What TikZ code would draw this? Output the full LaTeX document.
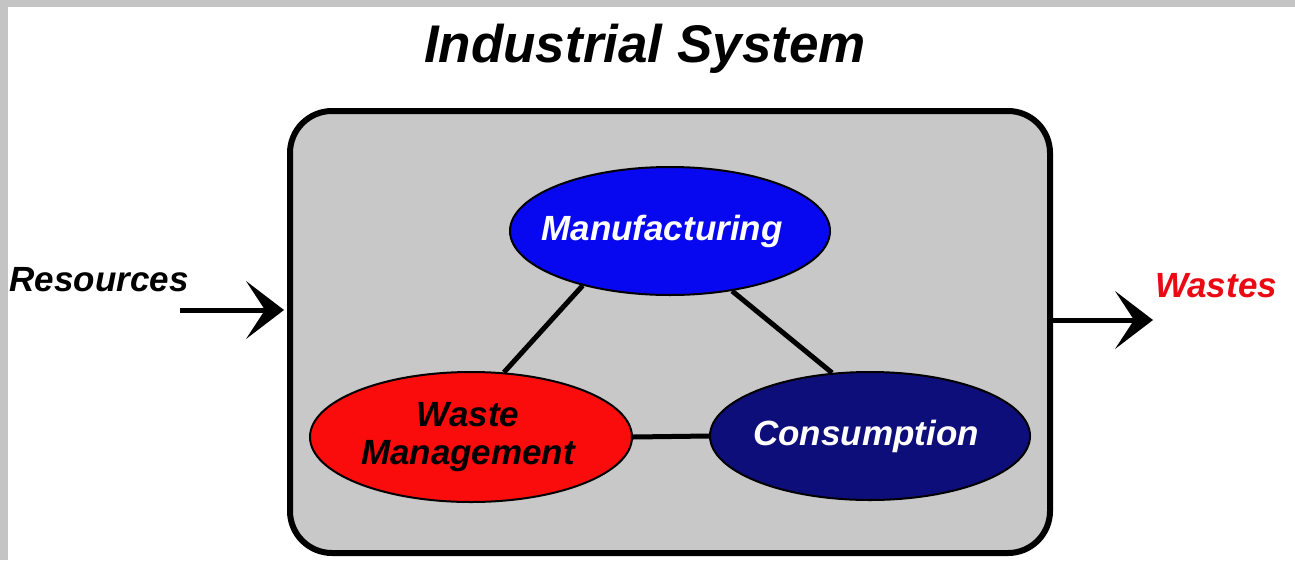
\documentclass[tikz,border=0pt]{standalone}
\usepackage{fontspec}
\setmainfont{Liberation Sans}
\usetikzlibrary{shapes.geometric,arrows.meta}
\definecolor{frame}{RGB}{196,196,196}
\definecolor{boxgray}{RGB}{200,200,200}
\definecolor{mblue}{RGB}{8,8,240}
\definecolor{cnavy}{RGB}{14,14,122}
\definecolor{wred}{RGB}{250,12,12}
\definecolor{labred}{RGB}{235,10,20}
\begin{document}
\begin{tikzpicture}[x=1pt,y=-1pt,
  lbl/.style={font=\fontsize{35}{38}\selectfont\bfseries\itshape, inner sep=0pt},
  stage/.style={ellipse, draw=black, line width=2pt, minimum width=320pt,
    minimum height=128pt, inner sep=0pt},
  link/.style={line width=5pt, black},
  flow/.style={line width=5pt, black,
    -{Stealth[length=38pt,width=58pt,inset=19pt,line width=0pt]}}]
  % page: grey frame with white panel
  \useasboundingbox (0,0) rectangle (1295,560);
  \fill[frame] (0,0) rectangle (1295,560);
  \fill[white] (8,7) rectangle (1295,560);

  % title
  \node[anchor=base, inner sep=0pt,
    font=\fontsize{53}{60}\selectfont\bfseries\itshape] (title) at (645,62) {Industrial System};

  % system box
  \node[draw=black, line width=6pt, fill=boxgray, rounded corners=42pt,
    minimum width=760pt, minimum height=442pt, inner sep=0pt] (sys) at (670,332) {};

  % stages (ellipses, with their labels set on top)
  \node[stage, fill=mblue] (man) at (670,231) {};
  \node[stage, fill=wred, minimum width=322pt, minimum height=130pt] (waste) at (471,437) {};
  \node[stage, fill=cnavy] (cons) at (870,436) {};
  \node[lbl, text=white] (manlbl) at ([xshift=-8pt]man.center) {Manufacturing};
  \node[lbl, text=black, align=center] (wastelbl) at ([xshift=-3pt]waste.center) {Waste\\Management};
  \node[lbl, text=white] (conslbl) at ([xshift=-4pt]cons.center) {Consumption};

  % links between stages
  \draw[link] (man.212) -- (waste.63);
  \draw[link] (man.316) -- (cons.121);
  \draw[link] (waste.east) -- (cons.west);

  % inputs and outputs
  \node[lbl, anchor=base] (res) at (99,291) {Resources};
  \node[lbl, anchor=base, text=labred] (was) at (1216,297) {Wastes};
  \coordinate (rin) at (180,310);
  \coordinate (rtip) at (284,310);
  \coordinate (wtip) at (1153,320);
  \draw[flow] (rin) -- (rtip);
  \draw[flow] (sys.east |- wtip) -- (wtip);
\end{tikzpicture}
\end{document}
